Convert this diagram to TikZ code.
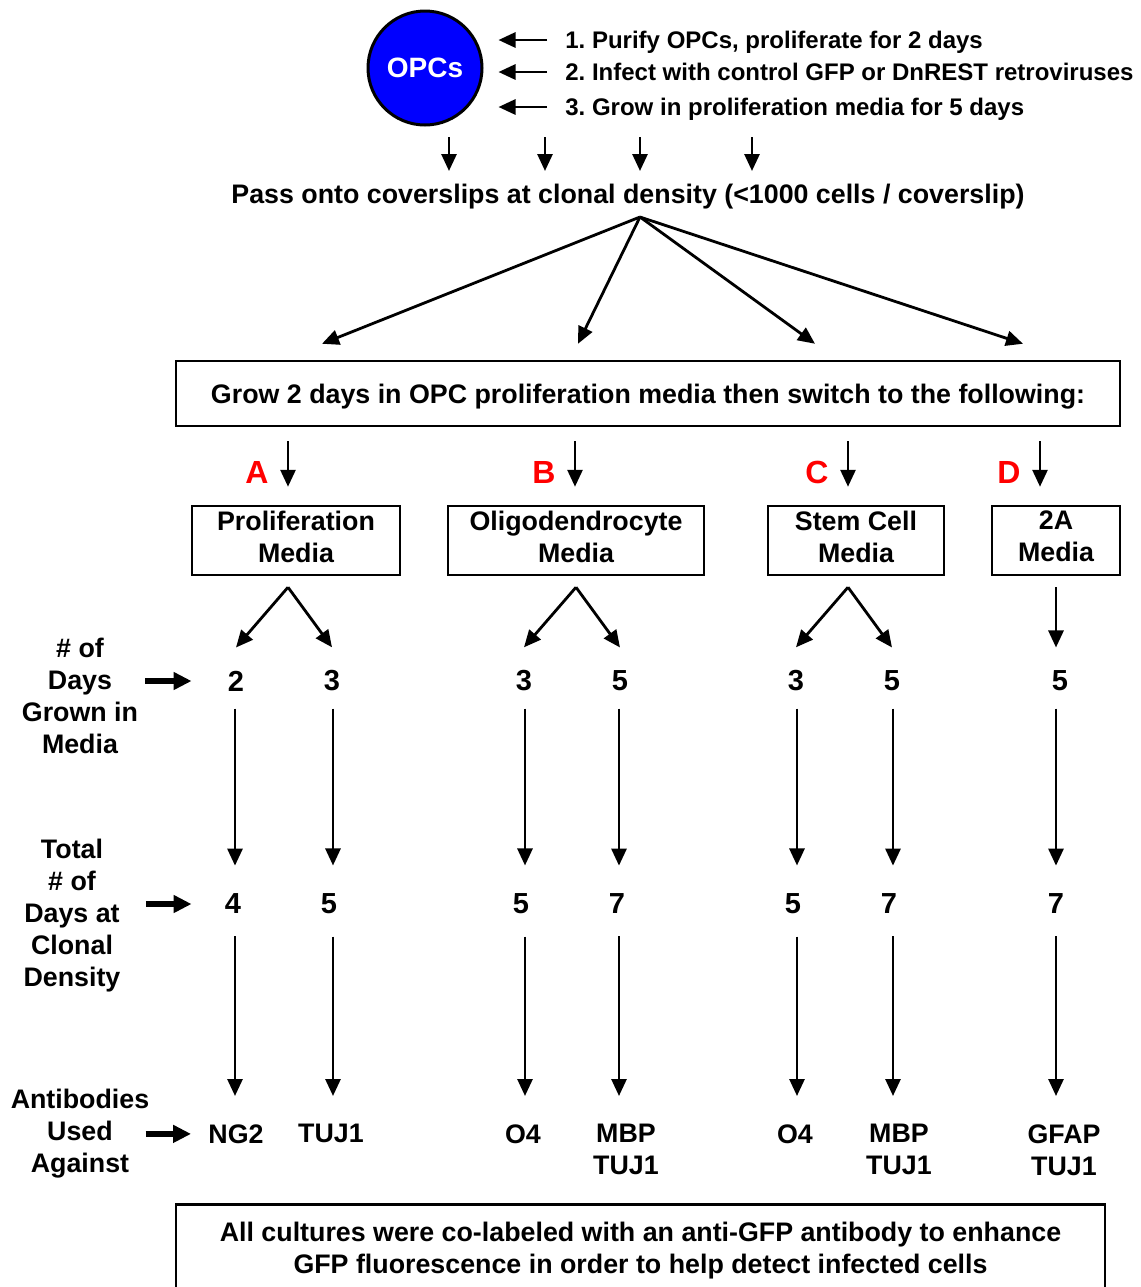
\documentclass[tikz,border=0pt]{standalone}
\usepackage{fontspec}
\setmainfont{Liberation Sans}
\usetikzlibrary{arrows.meta}
\frenchspacing

\tikzset{
	txt/.style={font=\bfseries\fontsize{13.4}{16}\selectfont, inner sep=0pt, align=center},
	oneline/.style={text height=9.6pt, text depth=0pt},
	stepline/.style={font=\bfseries\fontsize{12}{16}\selectfont, inner sep=0pt, anchor=west, text height=8.6pt, text depth=0pt},
	num/.style={font=\bfseries\fontsize{14.5}{16}\selectfont, inner sep=0pt},
	tag/.style={font=\bfseries\fontsize{16}{18}\selectfont, inner sep=0pt, text=red},
	box/.style={draw, line width=1.25pt},
	mbox/.style={box, txt, minimum height=34.5pt, text depth=4pt},
	arr/.style={line width=1.4pt, -{Triangle[length=8.5pt,width=7.5pt]}},
	fat/.style={line width=3.2pt, -{Triangle[length=9pt,width=8.5pt]}},
}

\begin{document}
\begin{tikzpicture}[x=0.5pt, y=-0.5pt]
			\useasboundingbox (0,0) rectangle (1141,1287);
			\node[circle, draw, line width=1.5pt, fill=blue, minimum size=57pt, inner sep=0pt, text=white, font=\bfseries\fontsize{14}{16}\selectfont] (opc) at (425,68) {OPCs};
			\node[stepline] (s1) at (565,40) {1. Purify OPCs, proliferate for 2 days};
			\node[stepline] (s2) at (565,72) {2. Infect with control GFP or DnREST retroviruses};
			\node[stepline] (s3) at (565,107) {3. Grow in proliferation media for 5 days};
			\foreach \s in {s1,s2,s3}
				\draw[arr, shorten <=9pt, shorten >=7.5pt] (\s.west) -- (\s.west -| opc.east);

			\node[txt, oneline] (pass) at (628,194) {Pass onto coverslips at clonal density (<1000 cells / coverslip)};
			\foreach \x in {449,545,640,752}
				\draw[arr, shorten >=6.5pt] (\x,137) -- (\x,137 |- pass.north);

			\node[box, txt, oneline, minimum width=472pt, minimum height=32.5pt] (grow) at (648,393.5) {Grow 2 days in OPC proliferation media then switch to the following:};
			\coordinate (fan) at (640,217);
			\foreach \x in {322,578,815,1023}
				\draw[arr] (fan) -- ([yshift=8pt]grow.north -| \x,0);

			% media columns
			\node[mbox, minimum width=104pt] (medA) at (296,540.5) {Proliferation\\Media};
			\node[mbox, minimum width=128pt] (medB) at (576,540.5) {Oligodendrocyte\\Media};
			\node[mbox, minimum width=88pt] (medC) at (856,540.5) {Stem Cell\\Media};
			\node[mbox, minimum width=64pt] (medD) at (1056,540.5) {2A\\Media};
			\foreach \x/\m/\l in {288/medA/A, 575/medB/B, 848/medC/C, 1040/medD/D} {
				\draw[arr, shorten <=7pt, shorten >=9pt] (grow.south -| \x,0) -- (\x,0 |- \m.north);
				\node[tag] (tag\l) at (\x-31,472) {\l};
			}

			% days in media, total days, antibodies
			\foreach \n/\x/\t in {1/236/2, 2/332/3, 3/524/3, 4/620/5, 5/796/3, 6/892/5, 7/1060/5}
				\node[num] (d\n) at (\x,681) {\t};
			\foreach \n/\x/\t in {1/233/4, 2/329/5, 3/521/5, 4/617/7, 5/793/5, 6/889/7, 7/1056/7}
				\node[num] (t\n) at (\x,904) {\t};
			\foreach \n/\x/\t in {1/236/NG2, 2/331/TUJ1, 3/523/O4, 4/626/MBP\\TUJ1, 5/795/O4, 6/899/MBP\\TUJ1, 7/1064/GFAP\\TUJ1}
				\node[txt, anchor=north] (ab\n) at (\x,1124) {\t};

			\foreach \m/\x/\a/\b in {medA/288/d1/d2, medB/576/d3/d4, medC/848/d5/d6} {
				\coordinate (br) at ([yshift=-5.5pt]\m.south -| \x,0);
				\draw[arr] (br) -- ([yshift=11.5pt]\a.north);
				\draw[arr] (br) -- ([yshift=11.5pt]\b.north);
			}
			\draw[arr, shorten <=5.5pt, shorten >=11.5pt] (medD.south) -- (medD.south |- d7.north);

			\foreach \n/\x in {1/235, 2/333, 3/525, 4/619, 5/797, 6/893, 7/1056} {
				\draw[arr, shorten <=8.5pt, shorten >=14pt] (d\n.south -| \x,0) -- (\x,0 |- t\n.north);
				\draw[arr, shorten <=11pt, shorten >=14pt] (t\n.south -| \x,0) -- (\x,0 |- ab\n.north);
			}

			\node[txt] (lblA) at (80,695.5) {\# of\\Days\\Grown in\\Media};
			\node[txt] (lblB) at (72,916) {Total\\\# of\\Days at\\Clonal\\Density};
			\node[txt] (lblC) at (80,1134) {Antibodies\\Used\\Against};
			\foreach \l/\r/\p/\q in {lblA/d1/3.5pt/18pt, lblB/t1/12.5pt/16.5pt, lblC/ab1/-2pt/8.5pt}
				\draw[fat, shorten <=\p, shorten >=\q] (\l.east |- \r.west) -- (\r.west);

			\node[box, txt, anchor=north, minimum width=464.5pt, inner ysep=9pt] (note) at (640.5,1203) {All cultures were co-labeled with an anti-GFP antibody to enhance\\GFP fluorescence in order to help detect infected cells};
\end{tikzpicture}
\end{document}
